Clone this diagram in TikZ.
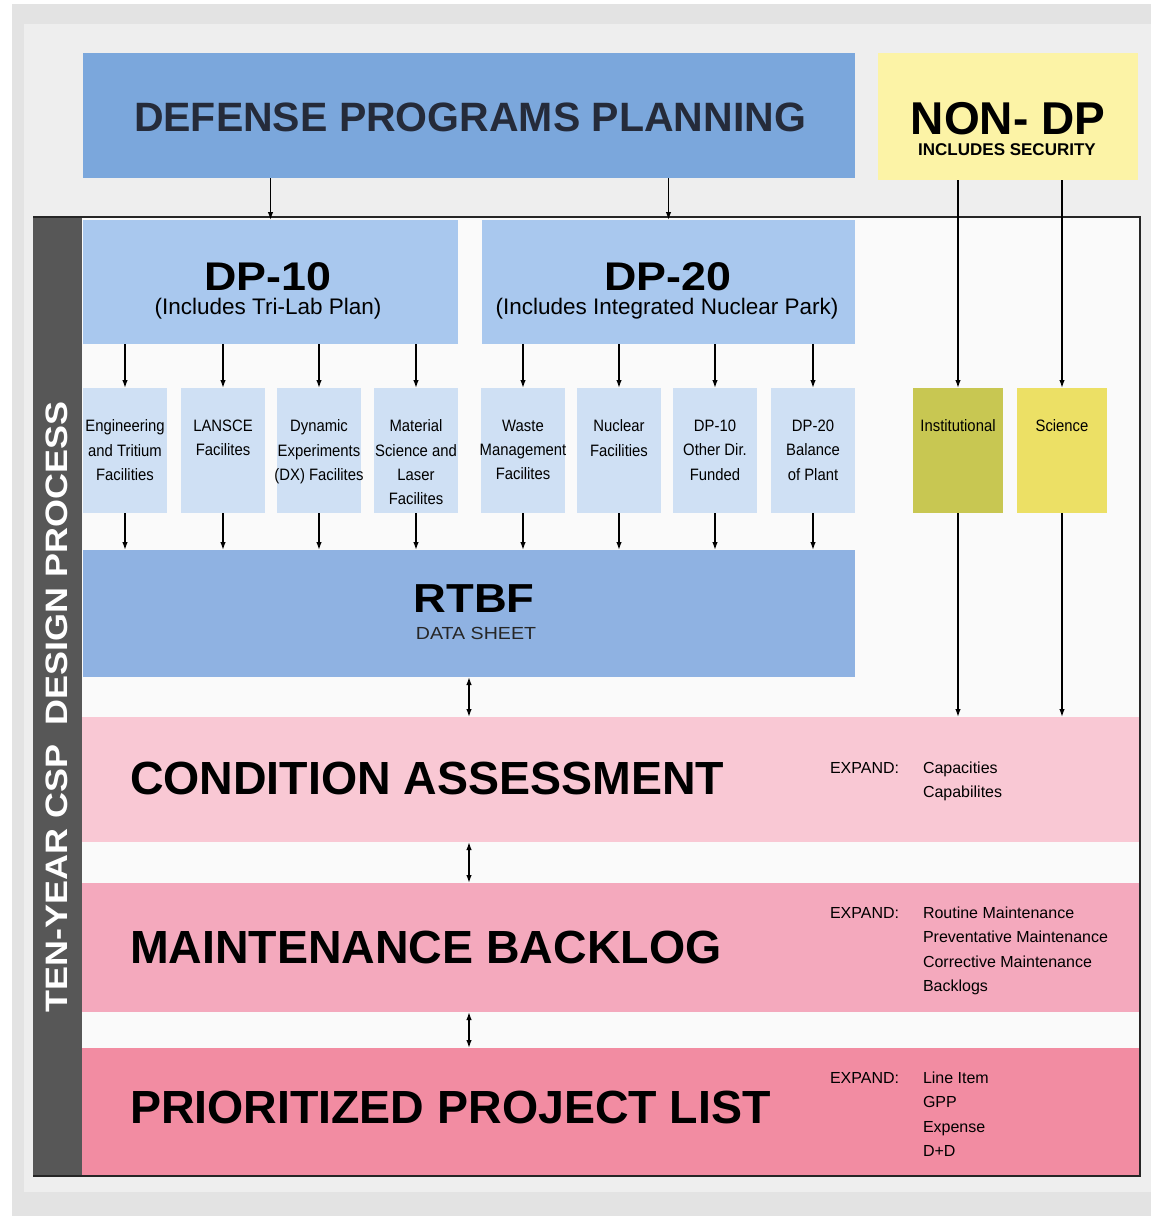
\documentclass[tikz,border=0pt]{standalone}
\usepackage{fontspec}
\setmainfont{Liberation Sans}
\newfontfamily\widefont[FakeStretch=1.12]{Liberation Sans}
\newfontfamily\barfont[FakeStretch=1.16]{Liberation Sans}
\newfontfamily\narrowfont[FakeStretch=0.9]{Liberation Sans}
\usetikzlibrary{arrows.meta}

\definecolor{pagegray}{HTML}{E3E3E3}
\definecolor{panelgray}{HTML}{EEEEEE}
\definecolor{framefill}{HTML}{FAFAFA}
\definecolor{barcol}{HTML}{575757}
\definecolor{dpblue}{HTML}{7BA7DC}
\definecolor{midblue}{HTML}{A9C8EE}
\definecolor{paleblue}{HTML}{CFE0F4}
\definecolor{rtbfblue}{HTML}{8FB2E2}
\definecolor{nonyellow}{HTML}{FCF3A6}
\definecolor{olive}{HTML}{C8C752}
\definecolor{sciyellow}{HTML}{ECE065}
\definecolor{pinkA}{HTML}{F9C8D4}
\definecolor{pinkB}{HTML}{F4A9BD}
\definecolor{pinkC}{HTML}{F28CA2}
\definecolor{navytext}{HTML}{252B3A}

\tikzset{
  box/.style={inner sep=0pt, outer sep=0pt, draw=none},
  arr/.style={line width=1.4pt, -{Latex[length=8pt,width=5.5pt]}},
  dblarr/.style={line width=1.4pt, {Latex[length=8pt,width=5.5pt]}-{Latex[length=8pt,width=5.5pt]}},
  txt/.style={inner sep=0pt, outer sep=0pt},
  bigtitle/.style={txt, font=\bfseries\fontsize{46.5}{50}\selectfont},
  subtext/.style={txt, align=center, anchor=north, font=\narrowfont\fontsize{16.5}{24.3}\selectfont},
  expandtext/.style={txt, align=left, anchor=base west, font=\fontsize{16}{24.6}\selectfont},
  expandlist/.style={txt, align=left, anchor=north west, font=\fontsize{16}{24.6}\selectfont},
}

\begin{document}
\begin{tikzpicture}[x=1pt, y=-1pt]
  % page and panel
  \path[use as bounding box, fill=white] (0,0) rectangle (1151,1216);
  \fill[pagegray] (12,4) rectangle (1151,1216);
  \fill[panelgray] (24,24) rectangle (1151,1192);

  % framed design-process area with its side bar
  \fill[framefill] (33,217) rectangle (1140,1176);
  \fill[barcol] (33,217) rectangle (82,1176);
  \node[txt, rotate=90, text=white, font=\barfont\bfseries\fontsize{31}{34}\selectfont] (sidebar)
    at (56.5,707) {TEN-YEAR CSP\hspace{0.3em} DESIGN PROCESS};

  % top planning boxes
  \node[box, fill=dpblue, minimum width=772, minimum height=125] (dpp) at (469,115.5) {};
  \node[txt, text=navytext, font=\bfseries\fontsize{41}{44}\selectfont] (dpptxt) at (470,117) {DEFENSE PROGRAMS PLANNING};
  \node[box, fill=nonyellow, minimum width=260, minimum height=127] (nondp) at (1008,116.5) {};
  \node[txt, anchor=base, font=\bfseries\fontsize{46}{48}\selectfont] (nondptxt) at (1008,134) {NON- DP};
  \node[txt, anchor=base, font=\bfseries\fontsize{17}{19}\selectfont] (nondpsub) at (1007,155) {INCLUDES SECURITY};

  % DP-10 and DP-20
  \node[box, fill=midblue, minimum width=375, minimum height=124] (dp10) at (270.5,282) {};
  \node[box, fill=midblue, minimum width=373, minimum height=124] (dp20) at (668.5,282) {};
  \node[txt, anchor=base, font=\widefont\bfseries\fontsize{40}{44}\selectfont] (dp10t) at (268,290) {DP-10};
  \node[txt, anchor=base, font=\fontsize{22.5}{24}\selectfont] (dp10s) at (268,314) {(Includes Tri-Lab Plan)};
  \node[txt, anchor=base, font=\widefont\bfseries\fontsize{40}{44}\selectfont] (dp20t) at (668,290) {DP-20};
  \node[txt, anchor=base, font=\fontsize{22.5}{24}\selectfont] (dp20s) at (667,314) {(Includes Integrated Nuclear Park)};

  % facility boxes
  \foreach \n/\cx in {s1/125, s2/223, s3/319, s4/416, s5/523, s6/619, s7/715, s8/813}{
    \node[box, fill=paleblue, minimum width=84, minimum height=125] (\n) at (\cx,450.5) {};
  }
  \node[subtext] (s1t) at (125,420) {Engineering\\and Tritium\\Facilities};
  \node[subtext] (s2t) at (223,420) {LANSCE\\Facilites};
  \node[subtext] (s3t) at (319,420) {Dynamic\\Experiments\\(DX) Facilites};
  \node[subtext] (s4t) at (416,420) {Material\\Science and\\Laser\\Facilites};
  \node[subtext] (s5t) at (523,420) {Waste\\Management\\Facilites};
  \node[subtext] (s6t) at (619,420) {Nuclear\\Facilities};
  \node[subtext] (s7t) at (715,420) {DP-10\\Other Dir.\\Funded};
  \node[subtext] (s8t) at (813,420) {DP-20\\Balance\\of Plant};

  % non-DP boxes
  \node[box, fill=olive, minimum width=90, minimum height=125] (inst) at (958,450.5) {};
  \node[box, fill=sciyellow, minimum width=90, minimum height=125] (sci) at (1062,450.5) {};
  \node[subtext] (instt) at (958,420) {Institutional};
  \node[subtext] (scit) at (1062,420) {Science};

  % RTBF
  \node[box, fill=rtbfblue, minimum width=772, minimum height=127] (rtbf) at (469,613.5) {};
  \node[txt, anchor=base, font=\widefont\bfseries\fontsize{40.5}{44}\selectfont] (rtbft) at (474,612) {RTBF};
  \node[txt, anchor=base, text=black!85, font=\widefont\fontsize{17.5}{19}\selectfont] (rtbfs) at (476,639) {DATA SHEET};

  % assessment bands
  \node[box, fill=pinkA, minimum width=1058, minimum height=125] (cond) at (611,779.5) {};
  \node[box, fill=pinkB, minimum width=1058, minimum height=129] (maint) at (611,947.5) {};
  \node[box, fill=pinkC, minimum width=1058, minimum height=128] (prior) at (611,1112) {};
  \node[bigtitle, anchor=west] (condt) at (130,778.5) {CONDITION ASSESSMENT};
  \node[bigtitle, anchor=west] (maintt) at (130,947.5) {MAINTENANCE BACKLOG};
  \node[bigtitle, anchor=west] (priort) at (130,1107.5) {PRIORITIZED PROJECT LIST};

  \node[expandtext] (conde) at (830,773) {EXPAND:};
  \node[expandlist] (condl) at (923,761.5) {Capacities\\Capabilites};
  \node[expandtext] (mainte) at (830,918) {EXPAND:};
  \node[expandlist] (maintl) at (923,906.5) {Routine Maintenance\\Preventative Maintenance\\Corrective Maintenance\\Backlogs};
  \node[expandtext] (priore) at (830,1083) {EXPAND:};
  \node[expandlist] (priorl) at (923,1071.5) {Line Item\\GPP\\Expense\\D+D};

  % frame outline
  \draw[line width=1.3pt, color=black!85] (33,217) -- (1140,217) -- (1140,1176) -- (33,1176);

  % connectors
  \draw[arr] (dpp.south -| dp10) -- (dp10.north);
  \draw[arr] (dpp.south -| dp20) -- (dp20.north);
  \foreach \n in {s1,s2,s3,s4}{
    \draw[arr] (dp10.south -| \n) -- (\n.north);
    \draw[arr] (\n.south) -- (rtbf.north -| \n);
  }
  \foreach \n in {s5,s6,s7,s8}{
    \draw[arr] (dp20.south -| \n) -- (\n.north);
    \draw[arr] (\n.south) -- (rtbf.north -| \n);
  }
  \draw[arr] (nondp.south -| inst) -- (inst.north);
  \draw[arr] (nondp.south -| sci) -- (sci.north);
  \draw[arr] (inst.south) -- (cond.north -| inst);
  \draw[arr] (sci.south) -- (cond.north -| sci);
  \draw[dblarr] (rtbf.south) -- (cond.north -| rtbf.south);
  \draw[dblarr] (cond.south -| rtbf.south) -- (maint.north -| rtbf.south);
  \draw[dblarr] (maint.south -| rtbf.south) -- (prior.north -| rtbf.south);
\end{tikzpicture}
\end{document}
